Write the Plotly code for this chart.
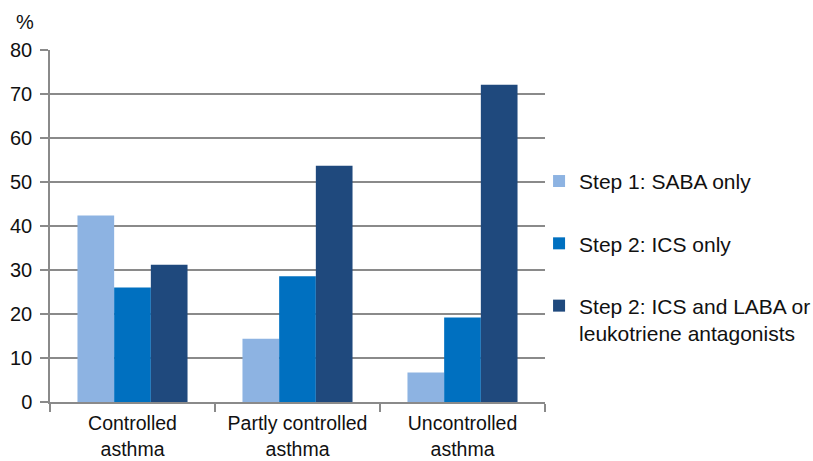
import plotly.graph_objects as go

# Asthma control level by treatment step (% of patients)
categories = ["Controlled<br>asthma", "Partly controlled<br>asthma", "Uncontrolled<br>asthma"]
series_names = [
    "Step 1: SABA only",
    "Step 2: ICS only",
    "Step 2: ICS and LABA or<br>leukotriene antagonists",
]
saba_only = [42.4, 14.4, 6.7]
ics_only = [26.0, 28.6, 19.2]
ics_laba = [31.2, 53.7, 72.1]
series_values = [saba_only, ics_only, ics_laba]
series_colors = ["#8DB3E2", "#0070C0", "#1F497D"]
y_ticks = [0, 10, 20, 30, 40, 50, 60, 70, 80]

FONT = "Liberation Sans, Arial, Helvetica, sans-serif"
GRID = "#8a8a8a"
TXT = "#111111"

fig = go.Figure()
for i, (name, vals, col) in enumerate(zip(series_names, series_values, series_colors)):
    fig.add_trace(go.Bar(
        x=categories, y=vals, name=name,
        marker=dict(color=col, line=dict(width=0)),
        legendgroup=f"g{i}",
    ))

fig.update_layout(
    width=813, height=461,
    margin=dict(l=50, r=268, t=50, b=59, autoexpand=False),
    paper_bgcolor="white", plot_bgcolor="white",
    barmode="group", bargap=0.333, bargroupgap=0,
    font=dict(family=FONT, size=20, color=TXT),
    showlegend=True,
    legend=dict(
        x=0.988, xanchor="left", y=0.685, yanchor="top",
        traceorder="grouped", tracegroupgap=32,
        valign="top", bgcolor="rgba(0,0,0,0)",
        font=dict(family=FONT, size=21, color=TXT),
        itemclick=False,
    ),
    xaxis=dict(
        automargin=False,
        showline=True, linecolor=GRID, linewidth=1.5,
        ticks="outside", tickson="boundaries", ticklen=8,
        tickcolor=GRID, tickwidth=1.5, ticklabelstandoff=3,
        showgrid=False, fixedrange=True,
        tickfont=dict(family=FONT, size=19.5, color=TXT),
    ),
    yaxis=dict(
        automargin=False,
        range=[0, 80], tickvals=y_ticks,
        showline=True, linecolor=GRID, linewidth=1.5,
        ticks="outside", ticklen=8, tickcolor=GRID, tickwidth=1.5,
        ticklabelstandoff=4,
        showgrid=True, gridcolor=GRID, gridwidth=1.5,
        zeroline=False, fixedrange=True,
        tickfont=dict(family=FONT, size=20, color=TXT),
    ),
    annotations=[dict(
        text="%", xref="paper", yref="paper",
        x=-0.05, y=1.08, xanchor="center", yanchor="middle",
        showarrow=False, font=dict(family=FONT, size=20, color=TXT),
    )],
)

fig.write_html("out.html")
